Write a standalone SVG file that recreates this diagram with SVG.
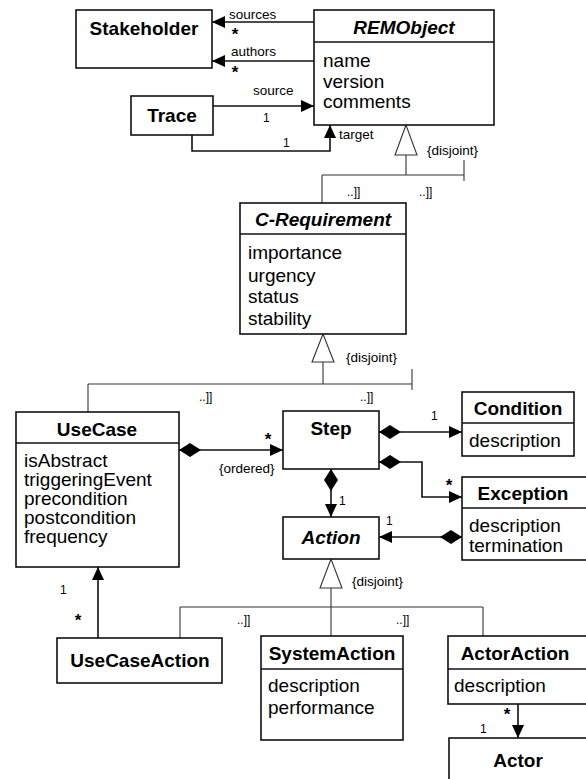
<svg xmlns="http://www.w3.org/2000/svg" width="586" height="779" viewBox="0 0 586 779">
<style>
.box{fill:#fff;stroke:#111;stroke-width:1.6}
.div{stroke:#111;stroke-width:1.4}
.t{font-family:"Liberation Sans",Arial,sans-serif;font-size:19px;font-weight:bold;fill:#000;text-anchor:middle}
.ti{font-style:italic}
.a{font-family:"Liberation Sans",Arial,sans-serif;font-size:19px;fill:#000}
.l{font-family:"Liberation Sans",Arial,sans-serif;font-size:13.5px;fill:#000}
.m{font-family:"Liberation Sans",Arial,sans-serif;font-size:12px;fill:#000}
.s{font-family:"Liberation Sans",Arial,sans-serif;font-size:17px;font-weight:bold;fill:#000;text-anchor:middle}
.as{fill:none;stroke:#111;stroke-width:1.6}
.gen{fill:none;stroke:#333;stroke-width:1.1}
.tri{fill:#fff;stroke:#333;stroke-width:1.1}
</style>
<defs>
<marker id="arr" markerUnits="userSpaceOnUse" markerWidth="14" markerHeight="12" refX="13" refY="6" orient="auto">
<path d="M0,0 L13,6 L0,12 Z" fill="#000"/>
</marker>
<marker id="dia" markerUnits="userSpaceOnUse" markerWidth="24" markerHeight="14" refX="0" refY="7" orient="auto">
<path d="M0,7 L11,0 L22,7 L11,14 Z" fill="#000"/>
</marker>
</defs>
<rect width="586" height="779" fill="#fff"/>

<g id="connectors">
<path class="as" d="M314,22 L212,22" marker-end="url(#arr)"/>
<path class="as" d="M314,61 L212,61" marker-end="url(#arr)"/>
<path class="as" d="M213,106 L314,106" marker-end="url(#arr)"/>
<path class="as" d="M192,135 L192,151 L330,151 L330,125" marker-end="url(#arr)"/>
<text class="l" x="229" y="19">sources</text>
<text class="s" x="235" y="40">*</text>
<text class="l" x="231" y="56">authors</text>
<text class="s" x="235" y="78">*</text>
<text class="l" x="253" y="95">source</text>
<text class="m" x="263" y="122">1</text>
<text class="m" x="283" y="147">1</text>
<text class="l" x="339" y="139">target</text>

<polygon class="tri" points="406,125 395,155 417,155"/>
<path class="gen" d="M406,155 L406,175 M322,175 L464,175 M322,175 L322,203 M464,160 L464,181"/>
<text class="l" x="427" y="155">{disjoint}</text>
<text class="m" x="347" y="196">..]]</text>
<text class="m" x="419" y="196">..]]</text>

<polygon class="tri" points="323,334 312,362 334,362"/>
<path class="gen" d="M323,362 L323,384 M88,384 L412,384 M88,384 L88,412 M412,369 L412,390"/>
<text class="l" x="346" y="362">{disjoint}</text>
<text class="m" x="199" y="401">..]]</text>
<text class="m" x="360" y="401">..]]</text>

<path class="as" d="M179,450 L283,450" marker-start="url(#dia)" marker-end="url(#arr)"/>
<text class="s" x="268" y="445">*</text>
<text class="l" x="219" y="473">{ordered}</text>

<path class="as" d="M379,432 L462,432" marker-start="url(#dia)" marker-end="url(#arr)"/>
<text class="m" x="431" y="420">1</text>
<path class="as" d="M379,462 L422,462 L422,497 L462,497" marker-start="url(#dia)" marker-end="url(#arr)"/>
<text class="s" x="449" y="491">*</text>
<path class="as" d="M331,469 L331,517" marker-start="url(#dia)" marker-end="url(#arr)"/>
<text class="m" x="339" y="505">1</text>
<path class="as" d="M462,537 L379,537" marker-start="url(#dia)" marker-end="url(#arr)"/>
<text class="m" x="386" y="525">1</text>

<polygon class="tri" points="331,559 320,588 342,588"/>
<path class="gen" d="M331,588 L331,636 M180,607 L483,607 M180,607 L180,638 M483,607 L483,636"/>
<text class="l" x="352" y="586">{disjoint}</text>
<text class="m" x="237" y="624">..]]</text>
<text class="m" x="396" y="624">..]]</text>

<path class="as" d="M98,638 L98,567" marker-end="url(#arr)"/>
<text class="m" x="60" y="594">1</text>
<text class="s" x="78" y="626">*</text>

<path class="as" d="M518,704 L518,738" marker-end="url(#arr)"/>
<text class="s" x="507" y="720">*</text>
<text class="m" x="480" y="733">1</text>
</g>

<g id="Stakeholder">
<rect class="box" x="76" y="10" width="136" height="58"/>
<text class="t" x="144" y="35">Stakeholder</text>
</g>
<g id="REMObject">
<rect class="box" x="314" y="10" width="180" height="115"/>
<line class="div" x1="314" y1="42" x2="494" y2="42"/>
<text class="t ti" x="404" y="34">REMObject</text>
<text class="a" x="323" y="67">name</text>
<text class="a" x="323" y="88">version</text>
<text class="a" x="323" y="108">comments</text>
</g>
<g id="Trace">
<rect class="box" x="131" y="96" width="82" height="39"/>
<text class="t" x="172" y="122">Trace</text>
</g>
<g id="C-Requirement">
<rect class="box" x="240" y="203" width="166" height="131"/>
<line class="div" x1="240" y1="234" x2="406" y2="234"/>
<text class="t ti" x="323" y="226">C-Requirement</text>
<text class="a" x="248" y="259">importance</text>
<text class="a" x="248" y="282">urgency</text>
<text class="a" x="248" y="303">status</text>
<text class="a" x="248" y="325">stability</text>
</g>
<g id="UseCase">
<rect class="box" x="16" y="412" width="163" height="155"/>
<line class="div" x1="16" y1="443" x2="179" y2="443"/>
<text class="t" x="97" y="436">UseCase</text>
<text class="a" x="24" y="467">isAbstract</text>
<text class="a" x="24" y="486">triggeringEvent</text>
<text class="a" x="24" y="505">precondition</text>
<text class="a" x="24" y="524">postcondition</text>
<text class="a" x="24" y="543">frequency</text>
</g>
<g id="Step">
<rect class="box" x="283" y="411" width="96" height="58"/>
<text class="t" x="331" y="435">Step</text>
</g>
<g id="Condition">
<rect class="box" x="462" y="392" width="112" height="64"/>
<line class="div" x1="462" y1="423" x2="574" y2="423"/>
<text class="t" x="518" y="415">Condition</text>
<text class="a" x="469" y="447">description</text>
</g>
<g id="Exception">
<rect class="box" x="462" y="477" width="130" height="83"/>
<line class="div" x1="462" y1="508" x2="586" y2="508"/>
<text class="t" x="523" y="500">Exception</text>
<text class="a" x="469" y="532">description</text>
<text class="a" x="469" y="552">termination</text>
</g>
<g id="Action">
<rect class="box" x="283" y="517" width="96" height="42"/>
<text class="t ti" x="331" y="544">Action</text>
</g>
<g id="UseCaseAction">
<rect class="box" x="57" y="638" width="165" height="45"/>
<text class="t" x="140" y="667">UseCaseAction</text>
</g>
<g id="SystemAction">
<rect class="box" x="261" y="636" width="142" height="104"/>
<line class="div" x1="261" y1="669" x2="403" y2="669"/>
<text class="t" x="332" y="660">SystemAction</text>
<text class="a" x="268" y="692">description</text>
<text class="a" x="268" y="714">performance</text>
</g>
<g id="ActorAction">
<rect class="box" x="448" y="636" width="145" height="68"/>
<line class="div" x1="448" y1="669" x2="586" y2="669"/>
<text class="t" x="515" y="660">ActorAction</text>
<text class="a" x="454" y="692">description</text>
</g>
<g id="Actor">
<rect class="box" x="449" y="738" width="145" height="50"/>
<text class="t" x="518" y="767">Actor</text>
</g>
</svg>
